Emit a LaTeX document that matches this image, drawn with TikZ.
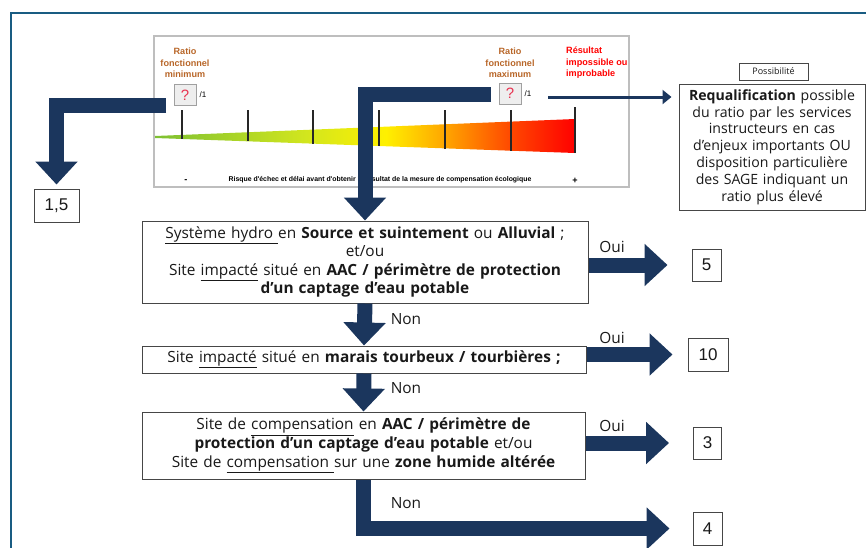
\documentclass[tikz,border=0pt]{standalone}
\usepackage{fontspec}
\setmainfont{Open Sans}
\newfontfamily\arialfont{Liberation Sans}
\usetikzlibrary{arrows.meta,positioning}
\definecolor{navy}{RGB}{27,54,93}
\definecolor{framecol}{RGB}{25,92,130}
\definecolor{ink}{RGB}{25,25,25}
\definecolor{boxline}{RGB}{70,70,70}
\definecolor{scaleline}{RGB}{190,190,190}
\definecolor{ratiobrown}{RGB}{184,102,40}
\definecolor{resred}{RGB}{255,0,0}
\definecolor{qred}{RGB}{232,50,80}
\definecolor{qbg}{RGB}{238,238,238}
\definecolor{qline}{RGB}{160,160,160}
\definecolor{riskgreen}{RGB}{125,192,50}
\definecolor{riskyg}{RGB}{210,230,30}
\definecolor{riskyellow}{RGB}{255,240,0}
\definecolor{riskorange}{RGB}{255,160,0}
\definecolor{riskdeep}{RGB}{255,70,0}
\definecolor{riskred}{RGB}{255,0,0}
\pgfdeclarehorizontalshading{riskshade}{100bp}{color(0bp)=(riskgreen); color(25bp)=(riskgreen); color(43bp)=(riskyg); color(52.5bp)=(riskyellow); color(60bp)=(riskorange); color(67.5bp)=(riskdeep); color(75bp)=(riskred); color(100bp)=(riskred)}
\newcommand{\BoxFont}{\fontsize{15.4}{18.6}\selectfont}
\newcommand{\ReqFont}{\fontsize{14.1}{16.8}\selectfont}
\newcommand{\TagFont}{\fontsize{9}{11}\selectfont}
\newcommand{\ScaleFont}{\arialfont\bfseries\fontsize{9.1}{11.5}\selectfont}
\newcommand{\RiskFont}{\arialfont\bfseries\fontsize{6.9}{8}\selectfont}
\newcommand{\PerFont}{\arialfont\fontsize{8}{8}\selectfont}
\newcommand{\NumFont}{\arialfont\fontsize{17}{20}\selectfont}
\tikzset{
  bigflow/.style={-{Triangle[length=23pt, width=41pt]}, line width=15pt, draw=navy, line join=miter},
  thinflow/.style={-{Triangle[length=9pt, width=14pt]}, line width=3pt, draw=navy},
  askbox/.style={draw=boxline, line width=1pt, fill=white, align=center, font=\BoxFont, text=ink, inner sep=0pt},
  numbox/.style={draw=boxline, line width=1pt, fill=white, font=\NumFont, text=ink, inner sep=0pt},
  qbox/.style={draw=qline, fill=qbg, line width=0.8pt, minimum width=22pt, minimum height=21pt, inner sep=0pt, text=qred, font=\arialfont\fontsize{15}{15}\selectfont},
  ratiolbl/.style={align=center, font=\ScaleFont, text=ratiobrown, inner sep=0pt},
  scaletick/.style={line width=1.8pt, draw=black!85},
  answer/.style={font=\BoxFont, text=ink, inner sep=0pt}
}
\begin{document}
\begin{tikzpicture}[x=1pt, y=1pt]
  \useasboundingbox (0,0) rectangle (866,-547);
  \draw[framecol, line width=2pt] (11,-560) |- (880,-13);
  \node[draw=scaleline, line width=1.5pt, minimum width=475pt, minimum height=151pt, inner sep=0pt] (scale) at (391.5,-111.5) {};
  \shade[shading=riskshade] (155,-136) -- (575,-119) -- (575,-153) -- (155,-138) -- cycle;
  \draw[scaletick] (182,-110) -- (182,-139) (248,-110) -- (248,-141) (313,-110) -- (313,-143.5) (379,-110) -- (379,-146) (445,-110) -- (445,-148.5) (511,-110) -- (511,-150.5) (575,-107) -- (575,-153);
  \node[ratiolbl] (minlbl) at (185,-63) {Ratio\\fonctionnel\\minimum};
  \node[qbox] (qmin) at (185,-95) {?};
  \node[font=\PerFont, inner sep=0pt, right=3pt of qmin] (permin) {/1};
  \node[ratiolbl] (maxlbl) at (510,-63) {Ratio\\fonctionnel\\maximum};
  \node[qbox] (qmax) at (510,-93.5) {?};
  \node[font=\PerFont, inner sep=0pt, right=3pt of qmax] (permax) {/1};
  \node[ratiolbl, align=left, text=resred, anchor=west] (reslbl) at (566,-63) {Résultat\\impossible ou\\improbable};
  \node[font=\ScaleFont, inner sep=0pt] (minus) at (186,-181) {-};
  \node[font=\RiskFont, inner sep=0pt] (risk) at (380,-180) {Risque d'échec et délai avant d'obtenir le résultat de la mesure de compensation écologique};
  \node[font=\ScaleFont, inner sep=0pt] (plus) at (575,-181) {+};
  \node[numbox, minimum width=45pt, minimum height=33pt] (r15) at (56.5,-205.5) {1,5};
  \node[askbox, font=\TagFont, minimum width=69pt, minimum height=17pt] (possib) at (773.5,-71.5) {Possibilité};
  \node[askbox, font=\ReqFont, text width=186pt, minimum height=126pt] (req) at (772,-147) {\textbf{Requalification} possible\\du ratio par les services\\instructeurs en cas\\d’enjeux importants OU\\disposition particulière\\des SAGE indiquant un\\ratio plus élevé};
  \node[askbox, text width=446pt, minimum height=82pt] (hydro) at (365,-262) {\underline{Système hydro\ }en \textbf{Source et suintement} ou \textbf{Alluvial} ;\\et/ou\\Site \underline{impacté} situé en \textbf{AAC / périmètre de protection}\\\textbf{d’un captage d’eau potable}};
  \node[askbox, text width=444pt, minimum height=27pt] (tourb) at (364,-359.5) {Site \underline{impacté} situé en \textbf{marais tourbeux / tourbières ;}};
  \node[askbox, text width=443pt, minimum height=67pt] (comp) at (363.5,-445.5) {Site de \underline{compensation} en \textbf{AAC / périmètre de}\\\textbf{protection d’un captage d’eau potable} et/ou\\Site de \underline{compensation\ }sur une \textbf{zone humide altérée}};
  \node[numbox, minimum width=29pt, minimum height=32pt] (r5) at (706.5,-265) {5};
  \node[numbox, minimum width=40pt, minimum height=33pt] (r10) at (708,-354.5) {10};
  \node[numbox, minimum width=28pt, minimum height=32pt] (r3) at (707.5,-443) {3};
  \node[numbox, minimum width=29pt, minimum height=33pt] (r4) at (707.5,-528.5) {4};
  \node[answer] (oui1) at (612,-247) {Oui};
  \node[answer] (oui2) at (612,-338) {Oui};
  \node[answer] (oui3) at (612,-426) {Oui};
  \node[answer] (non1) at (406,-319) {Non};
  \node[answer] (non2) at (406,-388) {Non};
  \node[answer] (non3) at (406,-503) {Non};
  \coordinate (minstart) at (166,-105.5);
  \coordinate (maxstart) at (491,-94);
  \coordinate (reqstart) at (548,-97);
  \draw[bigflow, shorten >=4pt] (minstart) -| (r15.north);
  \draw[bigflow] (maxstart) -| (hydro.north);
  \draw[thinflow, shorten >=7pt] (reqstart) -- (reqstart -| req.west);
  \draw[bigflow, shorten >=24pt] (hydro.east |- r5) -- (r5.west);
  \draw[bigflow, shorten >=15pt] (tourb.east |- r10) -- (r10.west);
  \draw[bigflow, shorten >=24pt] (comp.east |- r3) -- (r3.west);
  \draw[bigflow] (hydro.south) -- (tourb.north);
  \draw[bigflow] (tourb.south) -- (comp.north);
  \draw[bigflow, shorten >=23pt] (comp.south) |- (r4.west);
\end{tikzpicture}
\end{document}
